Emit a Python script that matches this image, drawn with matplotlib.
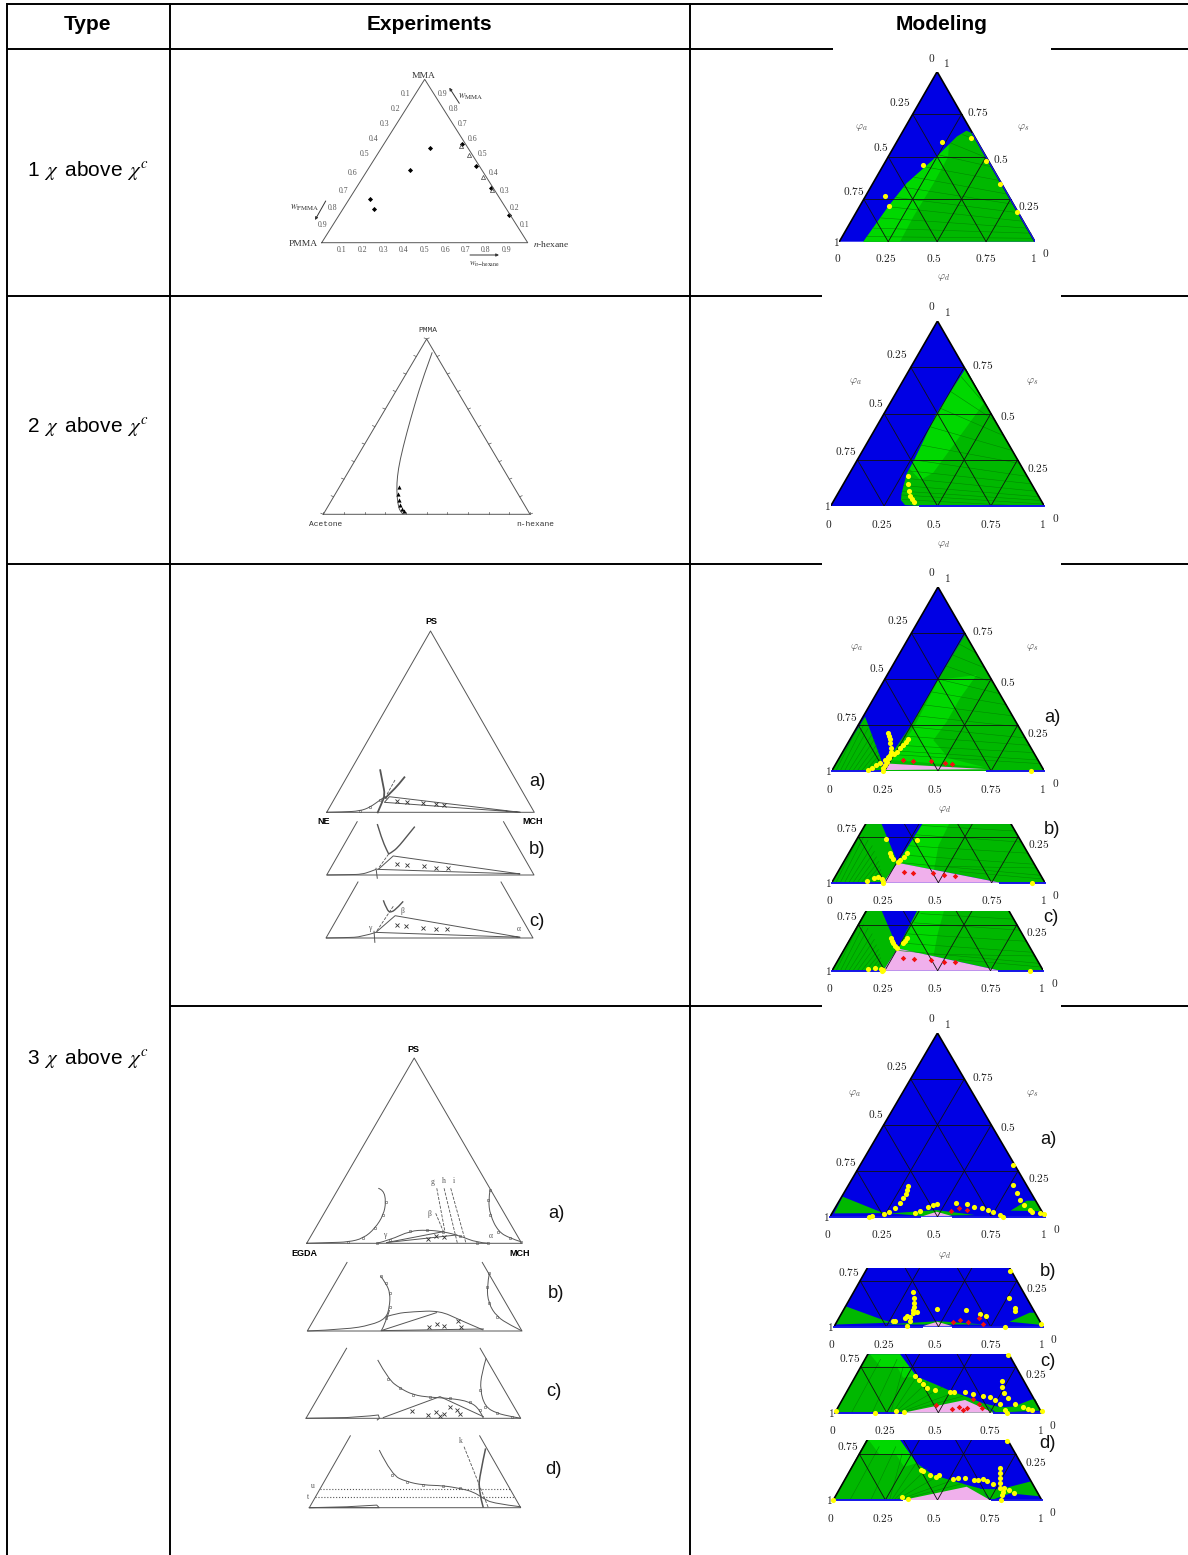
import numpy as np
import matplotlib
matplotlib.use('Agg')
import matplotlib.pyplot as plt
from matplotlib.path import Path
from matplotlib.patches import PathPatch

plt.rcParams['font.family'] = ['Liberation Sans', 'DejaVu Sans']

W, H = 1188, 1555
BLUE = '#0000e4'
LIGHT = '#00d800'
DARK = '#00b800'
PINK = '#f0b0ec'
TIE = '#008a00'
GREY = '#555555'

# header and row text
headers = ['Type', 'Experiments', 'Modeling']
row_labels = [r'1 $\,\chi\,$ above $\,\chi^c$', r'2 $\,\chi\,$ above $\,\chi^c$', r'3 $\,\chi\,$ above $\,\chi^c$']
fractions = ['0.1', '0.2', '0.3', '0.4', '0.5', '0.6', '0.7', '0.8', '0.9']

# --- modeling values, (fraction along base, fraction of height)
m1_green = [(.123, 0), (.25, .206), (.344, .343), (.497, .5), (.6, .618), (.65, .653), (.68, .637), (1, 0)]
m1_light = [(.123, 0), (.25, .206), (.344, .343), (.497, .5), (.56, .57), (.556, .5), (.48, .34), (.38, .15), (.31, 0)]
m1_tie_a = [(.63, .63), (.57, .58), (.51, .51), (.44, .44), (.38, .38), (.33, .32), (.29, .26), (.25, .206), (.21, .14), (.17, .08), (.14, .03)]
m1_tie_b = [(.70, .60), (.74, .50), (.78, .44), (.82, .36), (.86, .28), (.89, .22), (.92, .17), (.94, .12), (.96, .08), (.98, .05), (.99, .02)]
m1_yellow = [(.523, .584), (.675, .612), (.426, .451), (.75, .473), (.819, .337), (.235, .271), (.254, .212), (.906, .175)]

m2_green = [(.632, .743), (.496, .5), (.395, .257), (.356, .176), (.332, .068), (.329, .032), (.348, .005), (.426, 0), (1, 0)]
m2_light = [(.632, .743), (.72, .56), (.6, .37), (.48, .18), (.42, .14), (.37, .2), (.395, .257), (.496, .5)]
m2_tie_a = [(.61, .70), (.56, .62), (.51, .53), (.46, .43), (.42, .33), (.385, .25), (.365, .19), (.35, .15), (.34, .11), (.335, .08), (.33, .06), (.335, .035)]
m2_tie_b = [(.73, .54), (.77, .46), (.81, .38), (.85, .30), (.885, .23), (.92, .16), (.94, .12), (.96, .08), (.975, .05), (.985, .03), (1.0, .01), (.9, 0)]
m2_yellow = [(.363, .162), (.363, .119), (.368, .081), (.373, .056), (.382, .036), (.392, .020)]

m3a_left = [(0, 0), (.157, .295), (.236, .05), (.234, 0)]
m3a_right = [(.628, .744), (.368, .241), (.274, .078), (.262, .055), (.234, 0), (1, 0)]
m3a_light = [(.501, .495), (.682, .522), (.603, .395), (.541, .268), (.478, .168), (.55, .07), (.72, .02), (.28, .06), (.384, .232)]
m3a_pink = [(.234, .005), (.27, .04), (.73, .01)]
m3a_tie_a = [(.60, .69), (.57, .63), (.54, .57), (.50, .50), (.47, .43), (.43, .36), (.40, .30), (.37, .24), (.34, .19), (.31, .14), (.29, .11), (.28, .09)]
m3a_tie_b = [(.68, .64), (.72, .56), (.76, .48), (.79, .42), (.82, .36), (.85, .30), (.88, .24), (.91, .18), (.93, .14), (.95, .10), (.97, .06), (.98, .04)]
m3a_yellow = [(.266, .208), (.268, .19), (.274, .172), (.274, .15), (.277, .123), (.277, .105), (.274, .087), (.271, .069),
              (.36, .172), (.35, .159), (.337, .141), (.321, .123), (.306, .105), (.293, .092),
              (.172, .005), (.188, .014), (.208, .033), (.227, .045), (.251, .06), (.266, .074),
              (.243, 0), (.243, .014), (.251, .033), (.262, .051), (.936, 0)]
m3a_red = [(.337, .06), (.382, .056), (.467, .053), (.531, .043), (.564, .038)]

left_tie_a = [(.02, 0), (.04, 0), (.06, 0), (.08, 0), (.10, 0), (.12, 0), (.14, 0), (.16, 0), (.18, 0), (.2, 0)]
left_tie_b = [(.135, .27), (.15, .25), (.17, .23), (.19, .2), (.20, .17), (.21, .14), (.22, .115), (.225, .09), (.23, .07), (.232, .05)]
right_tie_a = [(.42, .31), (.39, .26), (.36, .2), (.33, .15), (.31, .11), (.45, .09), (.6, .06)]
right_tie_b = [(.86, .28), (.89, .22), (.92, .16), (.95, .10), (.98, .04), (.96, .08), (.99, .02)]

m3b_left = [(0, 0), (.159, .318), (.234, .318), (.309, .108), (.242, 0)]
m3b_right = [(.426, .318), (.309, .108), (.79, 0), (1, 0), (.841, .318)]
m3b_light = [(.426, .318), (.55, .318), (.50, .2), (.48, .07), (.309, .108)]
m3b_pink = [(.242, 0), (.309, .108), (.79, 0)]
m3b_yellow = [(.253, .235), (.402, .231), (.273, .163), (.279, .145), (.289, .128), (.354, .159), (.339, .141), (.32, .123),
              (.309, .11), (.164, .009), (.198, .024), (.217, .029), (.237, .02), (.239, .005), (.242, 0), (.941, 0)]
m3b_red = [(.339, .06), (.382, .054), (.473, .052), (.527, .042), (.58, .036)]

m3c_left = [(0, 0), (.158, .326), (.235, .326), (.311, .121), (.243, 0)]
m3c_right = [(.404, .326), (.311, .121), (.795, 0), (1, 0), (.837, .326)]
m3c_light = [(.404, .326), (.53, .326), (.50, .2), (.48, .08), (.311, .121)]
m3c_pink = [(.243, 0), (.311, .121), (.795, 0)]
m3c_yellow = [(.278, .176), (.282, .163), (.29, .149), (.298, .136), (.353, .176), (.345, .163), (.338, .152), (.309, .121),
              (.172, .007), (.203, .016), (.232, .011), (.243, .004), (.235, 0), (.937, 0)]
m3c_red = [(.338, .067), (.386, .062), (.467, .058), (.528, .047), (.584, .049)]

m4a_left = [(.02, .02), (.059, .109), (.233, .027), (.28, .02), (.02, .018)]
m4a_lens = [(.279, .018), (.496, .036), (.674, .009), (.434, .004)]
m4a_pink = [(.434, .004), (.496, .027), (.566, .004)]
m4a_right = [(.84, .033), (.915, .087), (.9565, .087), (.985, .03)]
m4a_yellow = [(.364, .167), (.36, .145), (.353, .123), (.341, .1), (.326, .073), (.302, .045), (.276, .027), (.251, .013), (.194, .004), (.181, 0),
              (.851, .281), (.853, .172), (.868, .127), (.884, .091), (.902, .064), (.93, .036), (.938, .027), (.977, .018), (.995, .013),
              (.395, .018), (.419, .033), (.454, .054), (.481, .064), (.496, .069),
              (.584, .076), (.636, .067), (.67, .054), (.705, .045), (.736, .036), (.76, .024), (.791, .009), (.806, 0)]
m4a_red = [(.561, .033), (.598, .045), (.639, .036)]

m4b_left = [(.01, .014), (.053, .112), (.236, .036), (.283, .022), (.01, .012)]
m4b_lens = [(.24, .012), (.5, .03), (.72, .012)]
m4b_pink = [(.428, .004), (.493, .027), (.564, .004)]
m4b_right = [(.84, .027), (.936, .076), (.962, .076), (.99, .01)]
m4b_yellow = [(.841, .304), (.376, .187), (.385, .154), (.385, .127), (.382, .109), (.379, .091), (.376, .072), (.398, .078),
              (.347, .058), (.339, .045), (.366, .051), (.363, .033), (.291, .029), (.283, .029), (.347, .004), (.494, .096),
              (.631, .091), (.697, .069), (.726, .06), (.838, .154), (.865, .1), (.865, .087), (.82, 0), (.992, .014)]
m4b_red = [(.567, .024), (.602, .034), (.64, .024), (.694, .049), (.712, .013)]

m4c_green = [(0, 0), (.158, .317), (.315, .317), (.395, .196), (.476, .159), (.556, .12), (.64, .085), (.72, .05), (.77, 0)]
m4c_light = [(.17, .317), (.315, .317), (.395, .196), (.33, .19), (.3, .25), (.22, .25)]
m4c_pink = [(.331, 0), (.629, .069), (.766, 0)]
m4c_right = [(.72, .05), (.8, .03), (.863, .033), (.952, .072), (.97, .072), (.995, .012), (.78, .0)]
m4c_tie_a = [(.27, 0), (.28, 0), (.29, 0), (.30, 0), (.31, 0), (.32, 0), (.18, 0), (.08, 0)]
m4c_tie_b = [(.33, .25), (.395, .196), (.45, .17), (.52, .14), (.58, .11), (.62, .09), (.3, .29), (.22, .29)]
m4c_yellow = [(.839, .313), (.387, .199), (.408, .178), (.427, .156), (.447, .132), (.484, .123), (.556, .114), (.577, .111),
              (.629, .114), (.669, .1), (.715, .091), (.75, .087), (.774, .069), (.798, .047), (.823, .014), (.834, 0),
              (.806, .172), (.81, .141), (.818, .105), (.839, .078), (.871, .047), (.908, .029), (.935, .018), (.955, .014),
              (1.0, .009), (.005, .009), (.194, 0), (.295, .011), (.335, .004)]
m4c_red = [(.487, .042), (.568, .018), (.602, .029), (.621, .014), (.637, .024), (.669, .072), (.698, .047), (.713, .024)]

m4d_green = [(0, 0), (.158, .326), (.32, .326), (.4, .2), (.48, .136), (.56, .109), (.64, .082), (.704, .063), (.752, 0)]
m4d_light = [(.17, .326), (.32, .326), (.4, .2), (.34, .18), (.3, .25), (.22, .25)]
m4d_pink = [(.336, 0), (.64, .072), (.752, 0)]
m4d_right = [(.70, .06), (.80, .058), (.944, .1), (.95, .1), (.99, .02), (.85, .036), (.76, 0)]
m4d_yellow = [(.835, .321), (.419, .163), (.429, .158), (.464, .138), (.493, .127), (.509, .134), (.576, .116), (.6, .121), (.632, .121),
              (.675, .109), (.693, .109), (.717, .112), (.736, .103), (.765, .087), (.8, .172), (.8, .145), (.8, .118), (.8, .091), (.8, .063),
              (.819, .063), (.816, .045), (.811, .027), (.845, .054), (.867, .04), (0, 0), (.331, .014), (.36, .004), (.805, 0)]

# --- experiment values
e1_diamonds = [(.526, .582), (.681, .604), (.429, .445), (.749, .469), (.824, .335), (.235, .267), (.254, .206), (.909, .169)]
e1_triangles = [(.715, .535), (.785, .4), (.678, .59), (.826, .325)]

e2_curve = [(.527, .924), (.484, .785), (.444, .633), (.403, .462), (.371, .31), (.358, .215), (.355, .139), (.36, .063), (.371, .015), (.387, 0)]
e2_triangles = [(.366, .156), (.363, .114), (.366, .08), (.371, .053), (.381, .03), (.389, .017)]

e3a_gamma = [(0, 0), (.08, .002), (.16, .007), (.209, .028), (.257, .068), (.281, .086)]
e3a_beta1 = [(.257, .237), (.27, .16), (.281, .096), (.265, .05), (.244, -.005)]
e3a_beta2 = [(.377, .197), (.345, .151), (.313, .114), (.281, .077)]
e3a_dash = [(.329, .178), (.289, .096)]
e3a_tie = [(.931, 0), (.302, .086), (.278, .055), (.931, 0)]
e3a_cross = [(.34, .06), (.385, .057), (.466, .05), (.527, .044), (.564, .042)]

e3b_gamma = [(0, 0), (.112, .002), (.169, .004), (.209, .018), (.238, .031)]
e3b_foot = [(.238, .037), (.244, -.018)]
e3b_arm1 = [(.244, .281), (.265, .202), (.289, .138), (.299, .116)]
e3b_arm2 = [(.425, .267), (.385, .211), (.353, .165), (.321, .129), (.299, .116)]
e3b_dash = [(.299, .116), (.244, .028)]
e3b_tie = [(.931, .006), (.321, .105), (.249, .031), (.931, .006)]
e3b_cross = [(.34, .061), (.385, .057), (.47, .05), (.526, .04), (.583, .039)]

e3c_gamma = [(0, 0), (.1, .002), (.172, .006), (.241, .031)]
e3c_foot = [(.232, .037), (.236, -.024)]
e3c_arm = [(.277, .208), (.293, .156), (.314, .138), (.349, .171), (.373, .202)]
e3c_dash = [(.325, .175), (.241, .031)]
e3c_tie = [(.936, .004), (.334, .123), (.241, .031), (.936, .004)]
e3c_cross = [(.341, .07), (.387, .064), (.471, .055), (.531, .05), (.585, .05)]

e4a_gamma = [(0, 0), (.109, .004), (.194, .007), (.264, .027), (.318, .081), (.357, .153), (.369, .225), (.357, .288), (.333, .297)]
e4a_alpha = [(.853, .288), (.845, .234), (.853, .153), (.891, .063), (.946, .027), (.995, .009)]
e4a_hump = [(.326, 0), (.388, .018), (.481, .067), (.558, .072), (.636, .063), (.713, .04), (.791, .004), (.845, 0)]
e4a_tie1 = [(.372, .004), (.636, .063)]
e4a_tie2 = [(.372, .004), (.698, .045)]
e4a_dash_g = [(.605, .297), (.643, .063)]
e4a_dash_h = [(.639, .297), (.701, 0)]
e4a_dash_i = [(.67, .297), (.741, 0)]
e4a_dash_beta = [(.6, .162), (.636, .063)]
e4a_cross = [(.563, .023), (.6, .04), (.639, .032)]

e4b_gamma = [(0, 0), (.18, .009), (.297, .032), (.367, .068), (.383, .131), (.386, .203), (.367, .257), (.341, .297)]
e4b_foot = [(.383, .113), (.364, .041), (.344, 0)]
e4b_hump = [(.367, .077), (.414, .095), (.492, .104), (.617, .11), (.711, .059), (.82, .005)]
e4b_tie = [(.82, .011), (.344, .002), (.602, .099)]
e4b_alpha = [(.848, .311), (.836, .239), (.844, .149), (.883, .077), (.945, .032), (.997, .002)]
e4b_cross = [(.567, .023), (.602, .038), (.638, .029), (.7, .052), (.717, .023)]

e4c_curve = [(.334, .315), (.384, .21), (.438, .162), (.5, .126), (.578, .113), (.671, .108), (.764, .09), (.811, .045), (.826, 0)]
e4c_tie = [(.36, .004), (.624, .117), (.826, .009)]
e4c_loop = [(0, 0), (.189, .004), (.298, .013), (.337, .018), (.342, 0), (.332, -.009)]
e4c_alpha = [(.839, .324), (.818, .243), (.811, .153), (.834, .063), (.888, .027), (.958, .009), (1, 0)]
e4c_cross = [(.495, .041), (.568, .018), (.606, .036), (.624, .013), (.641, .023), (.671, .063), (.702, .045), (.717, .022)]

e4d_curve = [(.331, .311), (.39, .176), (.461, .14), (.539, .122), (.634, .119), (.713, .104), (.776, .086), (.823, .05), (.871, .023), (1, .005)]
e4d_k = [(.732, .329), (.847, 0)]
e4d_alpha = [(.834, .32), (.808, .185), (.8, .095), (.823, 0)]
e4d_u = [(.05, .099), (.95, .099)]
e4d_t = [(.027, .056), (.973, .056)]
e4d_loop = [(0, 0), (.177, .005), (.319, .014), (.331, 0), (0, 0)]


def arr(pts):
    return np.array(pts, dtype=float)


fig = plt.figure(figsize=(W / 100, H / 100), dpi=100)

# table grid in pixel coordinates
table = fig.add_axes([0, 0, 1, 1], zorder=0)
table.set_xlim(0, W)
table.set_ylim(H, 0)
table.axis('off')
for x in [7, 170, 690]:
    table.plot([x, x], [3, H], color='k', lw=1.4, solid_capstyle='butt')
for x0, x1, y in [(7, 833, 49), (1051, W, 49), (7, W, 4), (7, 822, 296), (1061, W, 296),
                  (7, 822, 564), (1061, W, 564), (170, 822, 1006), (1061, W, 1006)]:
    table.plot([x0, x1], [y, y], color='k', lw=1.4, solid_capstyle='butt')

# text layer
txt = fig.add_axes([0, 0, 1, 1], zorder=20)
txt.set_xlim(0, W)
txt.set_ylim(H, 0)
txt.axis('off')


def label(x, y, s, size=8, color='#222222', **kw):
    txt.text(x, y, s, fontsize=size, color=color, ha=kw.pop('ha', 'center'), va=kw.pop('va', 'center'), **kw)


def panel(x0, x1, yb, h, top=1.0):
    ax = fig.add_axes([x0 / W, (H - yb) / H, (x1 - x0) / W, h * top / H], zorder=5)
    ax.set_xlim(0, 1)
    ax.set_ylim(0, top)
    ax.axis('off')
    return ax


def model_labels(x0, x1, yb, h, full=True, phid=False):
    w = x1 - x0
    items = [('0.75', .072, .296), ('0.25', .97, .208), ('1', -.017, -.002), ('0', -.011, -.096), ('0.25', .24, -.096),
             ('0.5', .485, -.096), ('0.75', .75, -.096), ('1', .992, -.096), ('0', 1.052, -.066)]
    if full:
        items += [('0', .472, 1.08), ('1', .546, 1.05), ('0.25', .311, .823), ('0.75', .71, .762), ('0.5', .214, .558), ('0.5', .828, .486)]
        label(x0 + .115 * w, yb - .673 * h, r'$\varphi_a$', 8, GREY, math_fontfamily='cm')
        label(x0 + .942 * w, yb - .673 * h, r'$\varphi_s$', 8, GREY, math_fontfamily='cm')
    if phid:
        label(x0 + .531 * w, yb + .21 * h, r'$\varphi_d$', 8, GREY, math_fontfamily='cm')
    for s, fx, fy in items:
        label(x0 + fx * w, yb - fy * h, '$' + s + '$', 8.2, math_fontfamily='cm')


def model(x0, x1, yb, h, top=1.0, polys=(), ties=(), yellow=None, red=None, base=(), phid=False):
    ax = panel(x0, x1, yb, h, top)
    tri = arr([(0, 0), (.5, 1), (1, 0)])
    ax.fill(tri[:, 0], tri[:, 1], color=BLUE, lw=0, zorder=1)
    for pts, col in polys:
        p = arr(pts)
        ax.fill(p[:, 0], p[:, 1], color=col, lw=0, zorder=2)
    for a, b in ties:
        for s, e in zip(a, b):
            ax.plot([s[0], e[0]], [s[1], e[1]], color=TIE, lw=.4, zorder=3)
    for t in [.25, .5, .75]:
        ax.plot([t / 2, 1 - t / 2], [t, t], color='#111111', lw=.6, zorder=4)
        ax.plot([t, t / 2], [0, t], color='#111111', lw=.6, zorder=4)
        ax.plot([t, t + (1 - t) / 2], [0, 1 - t], color='#111111', lw=.6, zorder=4)
    ax.plot(tri[:, 0], tri[:, 1], color='k', lw=1.2, zorder=5)
    for b in base:
        ax.plot(b, [0, 0], color='#1414e8', lw=1.4, zorder=5, clip_on=False)
    if yellow is not None:
        y = arr(yellow)
        ax.plot(y[:, 0], y[:, 1], 'o', color='#ffff00', ms=3.7, mew=0, zorder=7, clip_on=False)
    if red is not None:
        r = arr(red)
        ax.plot(r[:, 0], r[:, 1], 'D', color='#f01010', ms=2.8, mew=0, zorder=8, clip_on=False)
    model_labels(x0, x1, yb, h, full=top == 1.0, phid=phid)
    return ax


def lines(ax, *curves, color='#555555', lw=.7, ls='-'):
    for c in curves:
        p = arr(c)
        ax.plot(p[:, 0], p[:, 1], color=color, lw=lw, ls=ls, clip_on=False, zorder=3)


def smooth(ax, *curves, color='#555555', lw=.7, ls='-'):
    # quadratic bezier through the read points, so the binodals do not look polygonal
    for c in curves:
        p = arr(c)
        verts = [p[0]]
        codes = [Path.MOVETO]
        for i in range(1, len(p) - 1):
            end = p[i + 1] if i == len(p) - 2 else (p[i] + p[i + 1]) / 2
            verts += [p[i], end]
            codes += [Path.CURVE3, Path.CURVE3]
        ax.add_patch(PathPatch(Path(verts, codes), fill=False, edgecolor=color, lw=lw, ls=ls, clip_on=False, zorder=3))


def crosses(ax, pts):
    p = arr(pts)
    ax.plot(p[:, 0], p[:, 1], 'x', color='#333333', ms=2.4, mew=.6, clip_on=False, zorder=4)


def dots(ax, curve, ms=1.8):
    p = arr(curve)
    ax.plot(p[:, 0], p[:, 1], 'o', mfc='none', mec='#555555', ms=ms, mew=.4, clip_on=False, zorder=4)


def exp_panel(x0, x1, yb, h, top=1.0):
    ax = panel(x0, x1, yb, h, top)
    if top == 1.0:
        lines(ax, [(0, 0), (.5, 1), (1, 0), (0, 0)])
    else:
        lines(ax, [(top / 2, top), (0, 0), (1, 0), (1 - top / 2, top)])
    return ax


# --- modeling panels
ax = model(839.3, 1035, 241.7, 170, polys=[(m1_green, DARK), (m1_light, LIGHT)], ties=[(m1_tie_a, m1_tie_b)],
           yellow=m1_yellow, phid=True)
ax.plot([.68, 1], [.637, 0], color='#1414e8', lw=1.0, zorder=6)
model(830.7, 1044.3, 506, 185, polys=[(m2_green, DARK), (m2_light, LIGHT)], ties=[(m2_tie_a, m2_tie_b)],
      yellow=m2_yellow, base=[(.42, 1)], phid=True)
model(831.7, 1044.3, 771, 184, polys=[(m3a_left, DARK), (m3a_right, DARK), (m3a_light, LIGHT), (m3a_pink, PINK)],
      ties=[(m3a_tie_a, m3a_tie_b), (left_tie_a, left_tie_b)], yellow=m3a_yellow, red=m3a_red, base=[(0, .234), (.73, 1)], phid=True)
model(831.7, 1045, 882.7, 184.5, top=.318, polys=[(m3b_left, DARK), (m3b_right, DARK), (m3b_light, LIGHT), (m3b_pink, PINK)],
      ties=[(right_tie_a, right_tie_b), (left_tie_a, left_tie_b)], yellow=m3b_yellow, red=m3b_red, base=[(0, .24), (.79, 1)])
model(832, 1043.3, 970.7, 184, top=.326, polys=[(m3c_left, DARK), (m3c_right, DARK), (m3c_light, LIGHT), (m3c_pink, PINK)],
      ties=[(right_tie_a, right_tie_b), (left_tie_a, left_tie_b)], yellow=m3c_yellow, red=m3c_red, base=[(0, .24), (.79, 1)])
model(830, 1045, 1216.7, 183.7, polys=[(m4a_left, DARK), (m4a_lens, DARK), (m4a_pink, PINK), (m4a_right, DARK)],
      yellow=m4a_yellow, red=m4a_red, base=[(0, .42), (.57, 1)], phid=True)
model(834, 1043, 1326.7, 184, top=.317, polys=[(m4b_left, DARK), (m4b_lens, DARK), (m4b_pink, PINK), (m4b_right, DARK)],
      yellow=m4b_yellow, red=m4b_red, base=[(0, .42), (.57, 1)])
model(835, 1041.7, 1412.7, 184, top=.317, polys=[(m4c_green, DARK), (m4c_light, LIGHT), (m4c_right, DARK), (m4c_pink, PINK)],
      ties=[(m4c_tie_a, m4c_tie_b)], yellow=m4c_yellow, red=m4c_red, base=[(0, .33), (.77, 1)])
model(833.3, 1041.7, 1500, 184, top=.326, polys=[(m4d_green, DARK), (m4d_light, LIGHT), (m4d_right, DARK), (m4d_pink, PINK)],
      ties=[(m4c_tie_a, m4c_tie_b)], yellow=m4d_yellow, base=[(0, .33), (.76, 1)])

# --- experiment 1
ax = exp_panel(321.7, 527.7, 242.7, 163.4)
p = arr(e1_diamonds)
ax.plot(p[:, 0], p[:, 1], 'D', color='k', ms=2.6, mew=0)
p = arr(e1_triangles)
ax.plot(p[:, 0], p[:, 1], '^', mfc='none', mec='#444444', ms=3, mew=.5)
left_x = [405.7, 395.7, 385, 373.3, 364.3, 352.7, 344, 332.3, 322.3]
right_x = [524.3, 514.7, 504.3, 494, 482.7, 472.7, 462.7, 453.3, 442.7]
tick_y = [93.7, 109, 124, 139.3, 154.3, 172.7, 191, 208.3, 225.3]
bottom_x = [342, 362.7, 383.3, 404, 424.7, 445.3, 465.7, 486, 506.3]
serif = {'family': 'Liberation Serif'}
for i, s in enumerate(fractions):
    label(left_x[i], tick_y[i], s, 5.6, GREY, **serif)
    label(right_x[i], tick_y[8 - i], s, 5.6, GREY, **serif)
    label(bottom_x[i], 250, s, 5.6, GREY, **serif)
label(424, 76, 'MMA', 6.8, '#333333', **serif)
label(303, 244, 'PMMA', 6.8, '#333333', **serif)
label(551, 244, '$n$-hexane', 6.8, '#333333', math_fontfamily='stix', **serif)
label(470.7, 97, r'$w_{\mathrm{MMA}}$', 7, '#333333', math_fontfamily='stix')
label(305, 208, r'$w_{\mathrm{PMMA}}$', 7, '#333333', math_fontfamily='stix')
label(485, 264, r'$w_{n\mathrm{-hexane}}$', 6, '#333333', math_fontfamily='stix')
for a, b in [((459.3, 103.3), (449.3, 87.7)), ((325.7, 201), (315, 220)), ((470, 255), (499, 255))]:
    txt.annotate('', xy=b, xytext=a, arrowprops=dict(arrowstyle='-|>', color='#333333', lw=.7, mutation_scale=4, shrinkA=0, shrinkB=0))

# --- experiment 2
ax = exp_panel(323.3, 530, 514.3, 175.3)
smooth(ax, e2_curve)
p = arr(e2_triangles)
ax.plot(p[:, 0], p[:, 1], '^', color='k', ms=3, mew=0, zorder=5)
tick_at = [0, .1, .2, .3, .4, .5, .6, .7, .8, .9, 1]
for t in tick_at:
    ax.plot([t, t], [0, .012], color='#555555', lw=.5, clip_on=False)
    ax.plot([t / 2, t / 2 - .012], [t, t + .006], color='#555555', lw=.5, clip_on=False)
    ax.plot([1 - t / 2, 1 - t / 2 + .012], [t, t + .006], color='#555555', lw=.5, clip_on=False)
mono = {'family': 'Liberation Mono'}
label(427.7, 330, 'PMMA', 5.7, '#333333', **mono)
label(326, 525, 'Acetone', 5.7, '#333333', **mono)
label(535, 525, 'n-hexane', 5.7, '#333333', **mono)

# --- experiment 3, first group
ax = exp_panel(326.7, 534.3, 812.3, 181.3)
smooth(ax, e3a_gamma)
lines(ax, e3a_tie)
smooth(ax, e3a_beta1, e3a_beta2, lw=1.3)
lines(ax, e3a_dash, ls='--', lw=.6)
dots(ax, e3a_gamma[2:])
crosses(ax, e3a_cross)
ax = exp_panel(326.7, 534, 875, 181.3, top=.294)
smooth(ax, e3b_gamma)
lines(ax, e3b_tie, e3b_foot)
smooth(ax, e3b_arm1, e3b_arm2, lw=1.0)
lines(ax, e3b_dash, ls='--', lw=.6)
crosses(ax, e3b_cross)
ax = exp_panel(326, 533, 938, 181.3, top=.309)
smooth(ax, e3c_gamma)
lines(ax, e3c_tie, e3c_foot)
smooth(ax, e3c_arm, lw=1.0)
lines(ax, e3c_dash, ls='--', lw=.6)
crosses(ax, e3c_cross)
label(431, 622, 'PS', 6.5, 'k', fontweight='bold')
label(324, 821.7, 'NE', 6.5, 'k', fontweight='bold')
label(533, 821.7, 'MCH', 6.5, 'k', fontweight='bold')
label(402, 911, 'β', 5.5, GREY, **serif)
label(370, 928, 'γ', 5.5, GREY, **serif)
label(519, 929, 'α', 5.5, GREY, **serif)

# --- experiment 3, second group
ax = exp_panel(306.7, 521.7, 1243.3, 185.3)
smooth(ax, e4a_gamma, e4a_alpha, e4a_hump)
lines(ax, e4a_tie1, e4a_tie2)
for c in (e4a_dash_g, e4a_dash_h, e4a_dash_i, e4a_dash_beta):
    lines(ax, c, ls='--', lw=.6)
dots(ax, e4a_gamma[2:7])
dots(ax, e4a_alpha)
dots(ax, e4a_hump)
crosses(ax, e4a_cross)
ax = exp_panel(307.3, 522, 1331, 185.3, top=.37)
smooth(ax, e4b_gamma, e4b_foot, e4b_hump, e4b_alpha)
lines(ax, e4b_tie)
dots(ax, e4b_gamma[3:])
dots(ax, e4b_alpha[:4])
crosses(ax, e4b_cross)
ax = exp_panel(306, 520.7, 1418.3, 185.3, top=.378)
smooth(ax, e4c_curve, e4c_alpha)
lines(ax, e4c_tie, e4c_loop)
dots(ax, e4c_curve[1:8])
dots(ax, e4c_alpha[2:6])
crosses(ax, e4c_cross)
ax = exp_panel(309.3, 520.7, 1507.7, 185.3, top=.388)
smooth(ax, e4d_curve)
lines(ax, e4d_loop)
smooth(ax, e4d_alpha, lw=1.1)
lines(ax, e4d_k, ls='--', lw=.6)
lines(ax, e4d_u, e4d_t, ls=':', lw=.8)
dots(ax, e4d_curve[1:6])
label(413, 1049, 'PS', 6.5, 'k', fontweight='bold')
label(304, 1254, 'EGDA', 6.5, 'k', fontweight='bold')
label(520, 1254, 'MCH', 6.5, 'k', fontweight='bold')
for x, y, s in [(433, 1181.7, 'g'), (444, 1180.7, 'h'), (454.3, 1180.7, 'i'), (429.3, 1214.3, 'β'), (384.3, 1235, 'γ'), (490.7, 1236, 'α'),
                (461, 1440.7, 'k'), (313.3, 1485.7, 'u'), (307.7, 1496.7, 't')]:
    label(x, y, s, 5.5, GREY, **serif)

# --- table text
for x, s in zip([88, 429, 942], headers):
    label(x, 25, s, 15.0, 'k', fontweight='bold')
for y, s in zip([171, 427, 1058], row_labels):
    label(88, y, s, 15.0, 'k', math_fontfamily='stix')
for x, y, s in [(537, 781, 'a)'), (537, 850, 'b)'), (537, 921, 'c)'), (556, 1213, 'a)'), (556, 1294, 'b)'), (554, 1391, 'c)'), (554, 1469, 'd)'),
                (1052, 717, 'a)'), (1052, 830, 'b)'), (1051, 918, 'c)'), (1048, 1140, 'a)'), (1048, 1271, 'b)'), (1048, 1361, 'c)'), (1048, 1443, 'd)')]:
    label(x, y, s, 13.2, '#111111')

fig.savefig('out.png', dpi=100)
